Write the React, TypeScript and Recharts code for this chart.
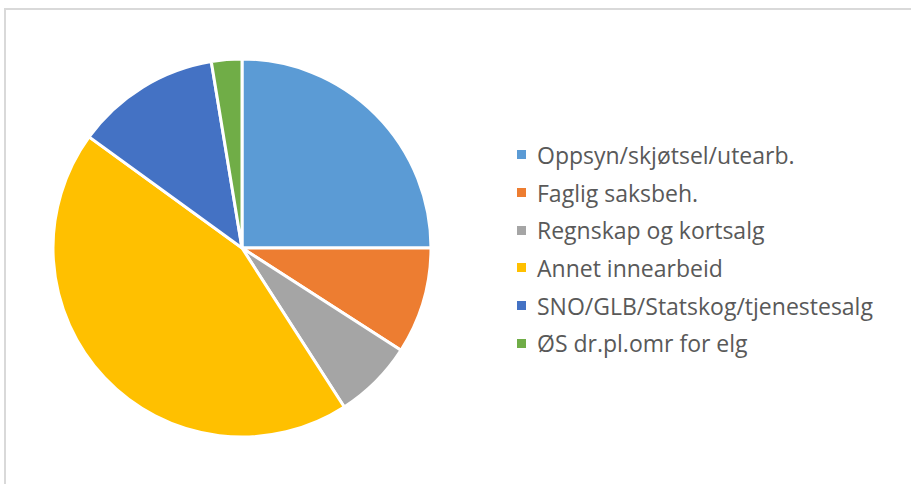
import { PieChart, Pie, Cell } from "recharts";

const categories = [
  "Oppsyn/skjøtsel/utearb.",
  "Faglig saksbeh.",
  "Regnskap og kortsalg",
  "Annet innearbeid",
  "SNO/GLB/Statskog/tjenestesalg",
  "ØS dr.pl.omr for elg",
];
const values = [25, 9.1, 6.8, 44.1, 12.4, 2.6];
const colors = ["#5B9BD5", "#ED7D31", "#A5A5A5", "#FFC000", "#4472C4", "#70AD47"];

const data = categories.map((name, i) => ({ name, value: values[i] }));

// legend drawn by hand, the recharts one shifts the pie
function LegendBox() {
  return (
    <div
      style={{
        position: "absolute",
        left: 517,
        top: 136,
        fontFamily: "'Open Sans', sans-serif",
        fontSize: 23,
        color: "#595959",
      }}
    >
      {categories.map((c, i) => (
        <div key={c} style={{ display: "flex", alignItems: "center", height: 37.7, whiteSpace: "nowrap" }}>
          <span
            style={{ width: 9, height: 9, background: colors[i], marginRight: 11, display: "inline-block", flexShrink: 0 }}
          />
          <span>{c}</span>
        </div>
      ))}
    </div>
  );
}

export default function App() {
  return (
    <div style={{ position: "absolute", left: 0, top: 0, width: 911, height: 484, background: "#fff", overflow: "hidden" }}>
      <div
        style={{
          position: "absolute",
          left: 4,
          top: 8,
          width: 920,
          height: 490,
          border: "2px solid #d9d9d9",
          boxSizing: "border-box",
        }}
      />
      <div style={{ position: "absolute", left: 0, top: 0 }}>
        <PieChart width={911} height={484} margin={{ top: 0, right: 0, bottom: 0, left: 0 }}>
          <Pie
            data={data}
            dataKey="value"
            nameKey="name"
            cx={242}
            cy={248}
            outerRadius={189}
            startAngle={90}
            endAngle={-270}
            stroke="#fff"
            strokeWidth={3}
            isAnimationActive={false}
          >
            {data.map((d, i) => (
              <Cell key={d.name} fill={colors[i]} />
            ))}
          </Pie>
        </PieChart>
      </div>
      <LegendBox />
    </div>
  );
}
